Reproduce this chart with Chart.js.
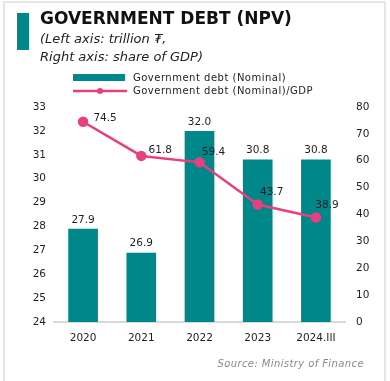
<!DOCTYPE html>
<html>
<head>
<meta charset="utf-8">
<script src="https://cdn.jsdelivr.net/npm/chart.js@4/dist/chart.umd.min.js"></script>
<style>
  body { margin: 0; background: #fff; font-family: "DejaVu Sans", sans-serif; }
  #wrap { position: relative; width: 390px; height: 381px; overflow: hidden; }
  #frame { position: absolute; left: 3px; top: 1px; width: 383px; height: 384px; border: 2px solid #e6e6e6; box-sizing: border-box; }
  #chart { position: absolute; left: 0; top: 0; }
  #accent { position: absolute; left: 17px; top: 13px; width: 12px; height: 37px; background: #00878a; }
  #title { position: absolute; left: 40px; top: 8px; font-size: 17px; font-weight: bold; color: #111; letter-spacing: 0; white-space: nowrap; }
  #subtitle { position: absolute; left: 40px; top: 30px; font-size: 13px; font-style: italic; line-height: 18px; color: #222; white-space: nowrap; }
  #legend { position: absolute; left: 73px; top: 70px; font-size: 10px; color: #222; }
  .item { position: relative; height: 14px; line-height: 14px; white-space: nowrap; padding-left: 60px; letter-spacing: 0.5px; }
  .item:first-child { top: 1px; }
  .swatch { position: absolute; left: 0; }
  #source { position: absolute; right: 26px; top: 358px; font-size: 10px; font-style: italic; color: #8a8a8a; letter-spacing: 0.4px; white-space: nowrap; }
</style>
</head>
<body>
<div id="wrap">
  <div id="frame"></div>
  <canvas id="chart" width="390" height="381"></canvas>
  <div id="accent"></div>
  <div id="title">GOVERNMENT DEBT (NPV)</div>
  <div id="subtitle">(Left axis: trillion ₮,<br>Right axis: share of GDP)</div>
  <div id="legend"></div>
  <div id="source">Source: Ministry of Finance</div>
</div>
<script>
// Nợ chính phủ: danh nghĩa (nghìn tỷ) và tỷ lệ trên GDP (%)
const years = ['2020', '2021', '2022', '2023', '2024.III'];
const debtNominal = [27.9, 26.9, 32.0, 30.8, 30.8];
const debtToGdp = [74.5, 61.8, 59.4, 43.7, 38.9];

const teal = '#00878a';
const pink = '#e8407f';
const textColor = '#1f1f1f';

// dịch chuyển nhãn của đường % để tránh đè lên điểm
const lineLabelShift = [[22, -4], [19, -6], [14, -10], [14, -12], [11, -12]];

const valueLabels = {
    id: 'valueLabels',
    afterDatasetsDraw(chart) {
        const ctx = chart.ctx;
        ctx.save();
        ctx.font = '10.5px "DejaVu Sans"';
        ctx.fillStyle = textColor;
        ctx.textAlign = 'center';
        ctx.textBaseline = 'middle';

        chart.getDatasetMeta(0).data.forEach((bar, i) => {
            ctx.fillText(debtNominal[i].toFixed(1), bar.x, bar.y - 9);
        });
        chart.getDatasetMeta(1).data.forEach((pt, i) => {
            const s = lineLabelShift[i];
            ctx.fillText(debtToGdp[i].toFixed(1), pt.x + s[0], pt.y + s[1]);
        });
        ctx.restore();
    }
};

const tickFont = { family: 'DejaVu Sans', size: 10.5 };

const chart = new Chart(document.getElementById('chart'), {
    type: 'bar',
    data: {
        labels: years,
        datasets: [
            {
                label: 'Government debt (Nominal)',
                data: debtNominal,
                backgroundColor: teal,
                yAxisID: 'y',
                categoryPercentage: 1,
                barPercentage: 0.51,
                order: 2
            },
            {
                type: 'line',
                label: 'Government debt (Nominal)/GDP',
                data: debtToGdp,
                borderColor: pink,
                backgroundColor: pink,
                borderWidth: 2.5,
                pointRadius: 4,
                pointHoverRadius: 4,
                tension: 0,
                yAxisID: 'y1',
                order: 1
            }
        ]
    },
    options: {
        responsive: false,
        animation: false,
        layout: { padding: { left: 0, right: 0, top: 107, bottom: 34 } },
        plugins: {
            legend: { display: false },
            tooltip: { enabled: false }
        },
        scales: {
            x: {
                grid: { display: false },
                border: { display: true, color: '#d9d9d9', width: 2 },
                ticks: { color: textColor, font: tickFont, padding: 2 },
                afterFit: s => { s.height = 25; }
            },
            y: {
                position: 'left',
                min: 24,
                max: 33,
                grid: { display: false, drawTicks: false },
                border: { display: false },
                ticks: { stepSize: 1, color: textColor, font: tickFont, padding: 8 },
                afterFit: s => { s.width = 54; }
            },
            y1: {
                position: 'right',
                min: 0,
                max: 80,
                grid: { display: false, drawTicks: false },
                border: { display: false },
                ticks: { stepSize: 10, color: textColor, font: tickFont, padding: 11 },
                afterFit: s => { s.width = 45; }
            }
        }
    },
    plugins: [valueLabels]
});

// chú thích dạng HTML: hộp cho cột, đường có chấm cho chuỗi %
function buildLegend() {
    const box = document.getElementById('legend');
    chart.data.datasets.forEach(ds => {
        const row = document.createElement('div');
        row.className = 'item';
        const sw = document.createElement('canvas');
        sw.className = 'swatch';
        sw.width = 56;
        sw.height = 14;
        const c = sw.getContext('2d');
        if (ds.type === 'line') {
            c.strokeStyle = ds.borderColor;
            c.lineWidth = 2.5;
            c.beginPath();
            c.moveTo(0, 7);
            c.lineTo(54, 7);
            c.stroke();
            c.fillStyle = ds.borderColor;
            c.beginPath();
            c.arc(27, 7, 3, 0, Math.PI * 2);
            c.fill();
        } else {
            c.fillStyle = ds.backgroundColor;
            c.fillRect(0, 3, 52, 7);
        }
        row.appendChild(sw);
        row.appendChild(document.createTextNode(ds.label));
        box.appendChild(row);
    });
}
buildLegend();
</script>
</body>
</html>
